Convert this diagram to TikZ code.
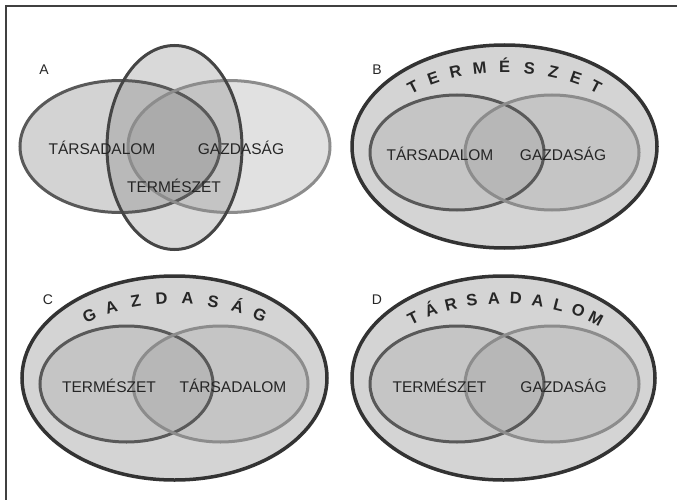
\documentclass[tikz,border=0pt]{standalone}
\usepackage{fontspec}
\setmainfont{Liberation Sans}
\usetikzlibrary{positioning}

\begin{document}
\begin{tikzpicture} [
    x=1pt, y=-1pt,
    frame/.style={draw=black!75, line width=1.3pt},
    outer/.style={draw=black!80, line width=3.5pt, fill=black!17},
    ringl/.style={draw=black!65, line width=3pt},
    ringr/.style={draw=black!45, line width=3pt},
    ringv/.style={draw=black!73, line width=3pt},
    shade/.style={fill=black!53, fill opacity=#1},
    inner/.style={fill=black, fill opacity=0.07},
    word/.style={text=black!85, font=\fontsize{15.5}{18}\selectfont, inner sep=0pt},
    tag/.style={text=black!85, font=\fontsize{14}{16}\selectfont, inner sep=0pt},
    bow/.style={text=black!85, font=\bfseries\fontsize{16.5}{19}\selectfont, inner sep=0pt, text height=1.45ex, text depth=0pt}
    ]
    \useasboundingbox (0,0) rectangle (677,500);
    %Frame
    \draw[frame] (6,500) -- (6,6) -- (677,6);

    %Panel A
    \fill[shade=0.33] (120,146.5) ellipse [x radius=100, y radius=66];
    \fill[shade=0.22] (229,146.5) ellipse [x radius=101, y radius=66];
    \fill[shade=0.28] (174.5,147.5) ellipse [x radius=67.5, y radius=102];
    \draw[ringl] (120,146.5) ellipse [x radius=100, y radius=66];
    \draw[ringr] (229,146.5) ellipse [x radius=101, y radius=66];
    \draw[ringv] (174.5,147.5) ellipse [x radius=67.5, y radius=102];
    \node[tag]  (tagA) at (44,70)     {A};
    \node[word] (tsA)  at (102,148)   {TÁRSADALOM};
    \node[word] (gzA)  at (241,148)   {GAZDASÁG};
    \node[word] (tmA)  at (174,186)   {TERMÉSZET};

    %Panel B
    \draw[outer] (504.5,146.5) ellipse [x radius=152.5, y radius=101.5];
    \fill[inner] (457,152.5) ellipse [x radius=87, y radius=57.5];
    \fill[inner] (552,152.5) ellipse [x radius=87, y radius=57.5];
    \draw[ringl] (457,152.5) ellipse [x radius=87, y radius=57.5];
    \draw[ringr] (552,152.5) ellipse [x radius=87, y radius=57.5];
    \node[tag]  (tagB) at (377,70)    {B};
    \node[word] (tsB)  at (440,154)   {TÁRSADALOM};
    \node[word] (gzB)  at (563,154)   {GAZDASÁG};
    \foreach \ch [count=\i from 0] in {T,E,R,M,É,S,Z,E,T} {
        \pgfmathsetmacro\ang{131.8-10.45*\i}
        \pgfmathsetmacro\rot{atan2(-78*cos(\ang),136*sin(\ang))}
        \node[bow, rotate=\rot] (bowB\i) at ({504.5+136*cos(\ang)},{146.5-78*sin(\ang)}) {\ch};
    }

    %Panel C
    \draw[outer] (174.5,378) ellipse [x radius=152.5, y radius=102];
    \fill[inner] (126.5,384) ellipse [x radius=86.5, y radius=58];
    \fill[inner] (220.5,384) ellipse [x radius=87.5, y radius=58];
    \draw[ringl] (126.5,384) ellipse [x radius=86.5, y radius=58];
    \draw[ringr] (220.5,384) ellipse [x radius=87.5, y radius=58];
    \node[tag]  (tagC) at (48,300)    {C};
    \node[word] (tmC)  at (109,386)   {TERMÉSZET};
    \node[word] (tsC)  at (233,386)   {TÁRSADALOM};
    \foreach \ch [count=\i from 0] in {G,A,Z,D,A,S,Á,G} {
        \pgfmathsetmacro\ang{128.4-10.97*\i}
        \pgfmathsetmacro\rot{atan2(-78*cos(\ang),136*sin(\ang))}
        \node[bow, rotate=\rot] (bowC\i) at ({174.5+136*cos(\ang)},{378-78*sin(\ang)}) {\ch};
    }

    %Panel D
    \draw[outer] (503.5,378) ellipse [x radius=151.5, y radius=102];
    \fill[inner] (457,384) ellipse [x radius=87, y radius=58];
    \fill[inner] (552,384) ellipse [x radius=87, y radius=58];
    \draw[ringl] (457,384) ellipse [x radius=87, y radius=58];
    \draw[ringr] (552,384) ellipse [x radius=87, y radius=58];
    \node[tag]  (tagD) at (377,300)   {D};
    \node[word] (tmD)  at (439.5,386) {TERMÉSZET};
    \node[word] (gzD)  at (563.5,386) {GAZDASÁG};
    \foreach \ch [count=\i from 0] in {T,Á,R,S,A,D,A,L,O,M} {
        \pgfmathsetmacro\ang{131.2-9.28*\i}
        \pgfmathsetmacro\rot{atan2(-78*cos(\ang),136*sin(\ang))}
        \node[bow, rotate=\rot] (bowD\i) at ({503.5+136*cos(\ang)},{378-78*sin(\ang)}) {\ch};
    }
\end{tikzpicture}
\end{document}
